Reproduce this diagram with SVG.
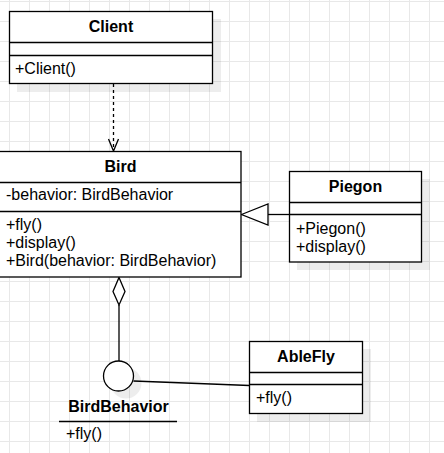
<svg xmlns="http://www.w3.org/2000/svg" width="444" height="453" viewBox="0 0 444 453">
<defs>
<pattern id="grid" x="9" y="1" width="20" height="20" patternUnits="userSpaceOnUse">
<path d="M0.5 0V20M0 0.5H20" fill="none" stroke="#e8e8e8" stroke-width="1"/>
</pattern>
<style>
.box{fill:#fff;stroke:#000;stroke-width:1.3}
.shadow{fill:#000;opacity:0.07}
.ln{stroke:#000;stroke-width:1.3;fill:none}
.t{font-family:"Liberation Sans",Arial,sans-serif;font-size:16px;fill:#000}
.b{font-weight:bold;text-anchor:middle}
</style>
</defs>
<rect width="444" height="453" fill="#fff"/>
<rect width="444" height="453" fill="url(#grid)"/>

<g id="connectors">
<line class="ln" x1="113.5" y1="84" x2="113.5" y2="150" stroke-dasharray="3 3"/>
<polyline class="ln" points="108.5,139 113.5,151 118.5,139"/>
<line class="ln" x1="268" y1="214.5" x2="289" y2="214.5"/>
<polygon class="ln" fill="#fff" style="fill:#fff" points="241.5,214.5 268,204 268,225"/>
<line class="ln" x1="119" y1="305" x2="119" y2="361"/>
<polygon class="ln" style="fill:#fff" points="119,277.5 125,291.5 119,305 113,291.5"/>
<line class="ln" x1="133.5" y1="381" x2="249.5" y2="385.5"/>
</g>

<g id="client">
<rect class="shadow" x="17" y="19" width="204" height="73"/>
<rect class="box" x="9.5" y="11.5" width="203" height="72"/>
<line class="ln" x1="9.5" y1="42.5" x2="212.5" y2="42.5"/>
<line class="ln" x1="9.5" y1="55.5" x2="212.5" y2="55.5"/>
<text class="t b" x="111" y="32">Client</text>
<text class="t" x="15" y="74">+Client()</text>
</g>

<g id="bird">
<rect class="box" x="-1" y="151.5" width="242" height="125.5"/>
<line class="ln" x1="-1" y1="182.5" x2="241" y2="182.5"/>
<line class="ln" x1="-1" y1="211.5" x2="241" y2="211.5"/>
<text class="t b" x="120.5" y="172">Bird</text>
<text class="t" x="6" y="200">-behavior: BirdBehavior</text>
<text class="t" x="6" y="230">+fly()</text>
<text class="t" x="6" y="248">+display()</text>
<text class="t" x="6" y="266">+Bird(behavior: BirdBehavior)</text>
</g>

<g id="piegon">
<rect class="shadow" x="297" y="179" width="133" height="91"/>
<rect class="box" x="289.5" y="171.5" width="132" height="90.5"/>
<line class="ln" x1="289.5" y1="202.5" x2="421.5" y2="202.5"/>
<line class="ln" x1="289.5" y1="214.5" x2="421.5" y2="214.5"/>
<text class="t b" x="355.5" y="192">Piegon</text>
<text class="t" x="296" y="234">+Piegon()</text>
<text class="t" x="296" y="252">+display()</text>
</g>

<g id="birdbehavior">
<circle class="shadow" cx="126" cy="383" r="15.5"/>
<circle class="box" cx="118.5" cy="376" r="15"/>
<text class="t b" x="118.5" y="412">BirdBehavior</text>
<line class="ln" x1="59" y1="421.5" x2="177" y2="421.5"/>
<text class="t" x="66" y="439">+fly()</text>
</g>

<g id="ablefly">
<rect class="shadow" x="257" y="349" width="114" height="73"/>
<rect class="box" x="249.5" y="341.5" width="113" height="72"/>
<line class="ln" x1="249.5" y1="372.5" x2="362.5" y2="372.5"/>
<line class="ln" x1="249.5" y1="384.5" x2="362.5" y2="384.5"/>
<text class="t b" x="306" y="362">AbleFly</text>
<text class="t" x="256" y="403">+fly()</text>
</g>
</svg>
